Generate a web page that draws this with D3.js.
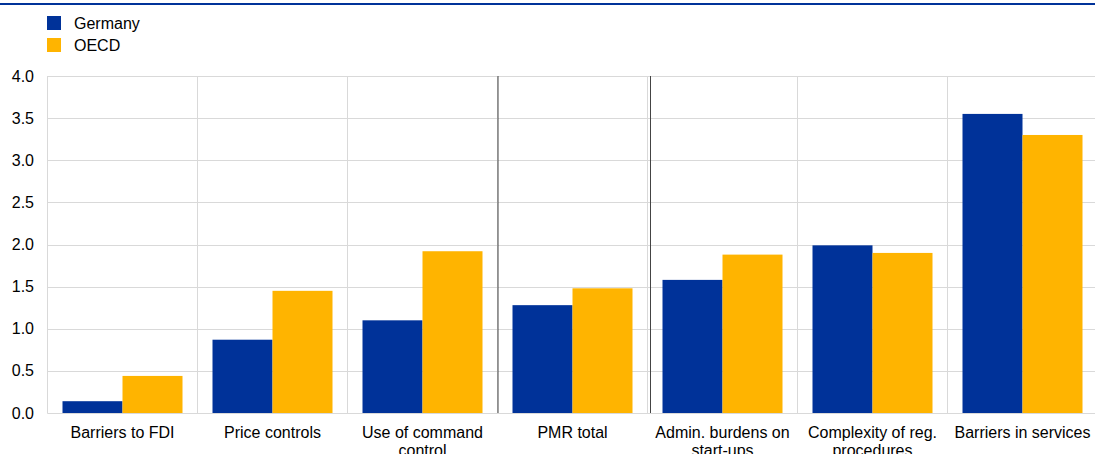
<!DOCTYPE html>
<html><head><meta charset="utf-8">
<script src="https://cdn.jsdelivr.net/npm/d3@7"></script>
<style>body{margin:0;background:#fff;} text{font-family:"Liberation Sans",Arial,sans-serif;}</style>
</head><body><svg id="c" width="1095" height="454"></svg>
<script>
const categories = [["Barriers to FDI"],["Price controls"],["Use of command","control"],["PMR total"],["Admin. burdens on","start-ups"],["Complexity of reg.","procedures"],["Barriers in services"]];
const seriesNames = ["Germany","OECD"];
const germany = [0.14,0.87,1.10,1.28,1.58,1.99,3.55];
const oecd = [0.44,1.45,1.92,1.48,1.88,1.90,3.30];
const yTicks = [0,0.5,1,1.5,2,2.5,3,3.5,4];
const colors = ["#003299","#ffb400"];

const svg = d3.select("#c");
const pLeft = 47.5, pRight = 1097.5, pTop = 76, pBottom = 413;
const keys = categories.map((c,i)=>i);
const x = d3.scaleBand().domain(keys).range([pLeft,pRight]);
const x1 = d3.scaleBand().domain(seriesNames).range([15,135]);
const y = d3.scaleLinear().domain([0,4]).range([pBottom,pTop]);

svg.append("rect").attr("x",0).attr("y",3).attr("width",1095).attr("height",2).attr("fill","#003299");

// grid
svg.append("g").selectAll("line").data(yTicks).join("line")
  .attr("x1",pLeft).attr("x2",pRight).attr("y1",d=>Math.round(y(d))+0.5).attr("y2",d=>Math.round(y(d))+0.5)
  .attr("stroke","#d9d9d9").attr("stroke-width",1);
svg.append("g").selectAll("line").data(keys.slice(1)).join("line")
  .attr("x1",d=>x(d)).attr("x2",d=>x(d)).attr("y1",pTop).attr("y2",pBottom)
  .attr("stroke","#d9d9d9");
svg.append("line").attr("x1",pLeft).attr("x2",pLeft).attr("y1",pTop).attr("y2",pBottom).attr("stroke","#d9d9d9");

// bars
const data = [germany,oecd];
data.forEach((vals,si)=>{
  svg.append("g").selectAll("rect").data(vals).join("rect")
    .attr("x",(d,i)=>x(i)+x1(seriesNames[si]))
    .attr("width",x1.bandwidth())
    .attr("y",d=>y(d)).attr("height",d=>y(0)-y(d))
    .attr("fill",colors[si]);
});

// separators
svg.append("line").attr("x1",x(3)+0.5).attr("x2",x(3)+0.5).attr("y1",pTop).attr("y2",pBottom).attr("stroke","#444").attr("stroke-width",1);
svg.append("line").attr("x1",x(4)+3).attr("x2",x(4)+3).attr("y1",pTop).attr("y2",pBottom).attr("stroke","#444").attr("stroke-width",1);

// axis
svg.append("line").attr("x1",pLeft).attr("x2",pRight).attr("y1",pBottom+0.5).attr("y2",pBottom+0.5).attr("stroke","#d9d9d9");

svg.append("g").selectAll("text").data(yTicks).join("text")
  .attr("x",34).attr("y",d=>y(d)+5.5).attr("text-anchor","end")
  .attr("font-size",16).attr("fill","#000").text(d=>d.toFixed(1));

const xl = svg.append("g").selectAll("text").data(categories).join("text")
  .attr("text-anchor","middle").attr("font-size",16).attr("fill","#000");
xl.each(function(lines,i){
  d3.select(this).selectAll("tspan").data(lines).join("tspan")
    .attr("x",x(i)+x.bandwidth()/2).attr("y",(d,j)=>438+j*18).text(d=>d);
});

// legend
const lg = svg.append("g");
seriesNames.forEach((n,i)=>{
  lg.append("rect").attr("x",47).attr("y",16+i*22).attr("width",14).attr("height",14).attr("fill",colors[i]);
  lg.append("text").attr("x",74).attr("y",29+i*22).attr("font-size",16).attr("fill","#000").text(n);
});
</script></body></html>
